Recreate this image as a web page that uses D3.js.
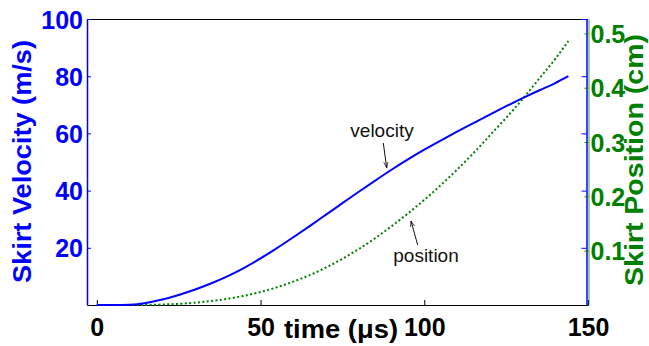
<!DOCTYPE html>
<html>
<head>
<meta charset="utf-8">
<script src="https://cdn.jsdelivr.net/npm/d3@7"></script>
<style>
  body { margin: 0; background: #fff; }
  svg { display: block; font-family: "Liberation Sans", Arial, sans-serif; }
</style>
</head>
<body>
<div id="chart"></div>
<script>
// time axis (microseconds)
const time = [0, 5, 10, 15, 20, 25, 30, 35, 40, 45, 50, 55, 60, 65, 70, 75, 80, 85, 90, 95, 100, 105, 110, 115, 120, 125, 130, 135, 140, 144]
// skirt velocity (m/s)
const velocity = [0, 0, 0.1, 0.7, 1.9, 3.5, 5.4, 7.6, 10.1, 13.0, 16.3, 19.9, 23.7, 27.6, 31.6, 35.6, 39.6, 43.5, 47.3, 50.9, 54.3, 57.5, 60.6, 63.6, 66.6, 69.5, 72.3, 75.0, 77.6, 80.0]
// skirt position (cm)
const position = [0, 0, 0, 0.0002, 0.0009, 0.0021, 0.0043, 0.0073, 0.0115, 0.017, 0.024, 0.0327, 0.043, 0.055, 0.069, 0.085, 0.103, 0.123, 0.145, 0.1685, 0.1935, 0.2205, 0.249, 0.2795, 0.312, 0.3445, 0.379, 0.416, 0.453, 0.486]

const xTicks = [0, 50, 100, 150]
const velTicks = [20, 40, 60, 80, 100]
const posTicks = [0.1, 0.2, 0.3, 0.4, 0.5]

const width = 649
const height = 346
const plotLeft = 87, plotRight = 588, plotTop = 19, plotBottom = 305

const blue = "#0000ff"
const green = "#008000"

const svg = d3.select("#chart")
  .append("svg")
    .attr("width", width)
    .attr("height", height)

let x = d3.scaleLinear().domain([-3, 150]).range([plotLeft, plotRight])
let yVel = d3.scaleLinear().domain([0, 100]).range([plotBottom, plotTop])
let yPos = d3.scaleLinear().domain([0, 0.5265]).range([plotBottom, plotTop])

// top border
svg.append("line")
  .attr("x1", plotLeft).attr("x2", plotRight)
  .attr("y1", plotTop + 0.5).attr("y2", plotTop + 0.5)
  .attr("stroke", "#000")

// bottom axis
let xAxis = svg.append("g")
  .attr("transform", "translate(0," + plotBottom + ")")
  .call(d3.axisBottom(x).tickValues(xTicks).tickSize(-5).tickSizeOuter(0))
xAxis.select(".domain").attr("stroke", "#000").attr("stroke-width", 1.2)
xAxis.selectAll("line").attr("stroke", "#000")
xAxis.selectAll("text")
  .attr("y", 31).attr("dy", 0)
  .attr("fill", "#000")
  .attr("font-size", "25px")
  .attr("font-weight", "bold")
  .attr("font-family", "'Liberation Sans', Arial, sans-serif")

// left axis (velocity)
let leftAxis = svg.append("g")
  .attr("transform", "translate(" + plotLeft + ",0)")
  .call(d3.axisLeft(yVel).tickValues(velTicks).tickSize(-4).tickSizeOuter(0).tickPadding(4))
leftAxis.select(".domain").attr("stroke", blue).attr("stroke-width", 1.5)
leftAxis.selectAll("line").attr("stroke", blue)
leftAxis.selectAll("text")
  .attr("fill", blue)
  .attr("dy", "0.36em")
  .attr("font-size", "25px")
  .attr("font-weight", "bold")
  .attr("font-family", "'Liberation Sans', Arial, sans-serif")

// mirrored velocity ticks on the right edge
let rightBlue = svg.append("g")
  .attr("transform", "translate(" + (plotRight - 1.5) + ",0)")
  .call(d3.axisRight(yVel).tickValues(velTicks).tickSize(-5).tickSizeOuter(0).tickFormat(""))
rightBlue.select(".domain").attr("stroke", blue).attr("stroke-width", 1.5)
rightBlue.selectAll("line").attr("stroke", blue)

// right axis (position)
let rightAxis = svg.append("g")
  .attr("transform", "translate(" + (plotRight + 0.5) + ",0)")
  .call(d3.axisRight(yPos).tickValues(posTicks).tickSize(-4).tickSizeOuter(0).tickPadding(2).tickFormat(d3.format(".1f")))
rightAxis.select(".domain").attr("stroke", green).attr("stroke-opacity", 0.5).attr("stroke-width", 1.5)
rightAxis.selectAll("line").attr("stroke", green)
rightAxis.selectAll("text")
  .attr("fill", green)
  .attr("dy", "0.36em")
  .attr("font-size", "25px")
  .attr("font-weight", "bold")
  .attr("font-family", "'Liberation Sans', Arial, sans-serif")

// curves
let velLine = d3.line()
  .x(function(d, i) { return x(time[i]); })
  .y(function(d) { return yVel(d); })
  .curve(d3.curveMonotoneX)

let posLine = d3.line()
  .x(function(d, i) { return x(time[i]); })
  .y(function(d) { return yPos(d); })
  .curve(d3.curveMonotoneX)

svg.append("path")
  .datum(position)
  .attr("d", posLine)
  .attr("fill", "none")
  .attr("stroke", green)
  .attr("stroke-width", 2)
  .attr("stroke-dasharray", "2,2.4")

svg.append("path")
  .datum(velocity)
  .attr("d", velLine)
  .attr("fill", "none")
  .attr("stroke", blue)
  .attr("stroke-width", 2)

// axis labels
svg.append("text")
  .attr("transform", "translate(31,161.5)rotate(-90)")
  .attr("text-anchor", "middle")
  .attr("fill", blue)
  .attr("font-size", "26px")
  .attr("font-weight", "bold")
  .attr("textLength", 243)
  .attr("lengthAdjust", "spacingAndGlyphs")
  .text("Skirt Velocity (m/s)")

svg.append("text")
  .attr("transform", "translate(643,160)rotate(-90)")
  .attr("text-anchor", "middle")
  .attr("fill", green)
  .attr("font-size", "25px")
  .attr("font-weight", "bold")
  .attr("textLength", 252)
  .attr("lengthAdjust", "spacingAndGlyphs")
  .text("Skirt Position (cm)")

svg.append("text")
  .attr("x", 341)
  .attr("y", 338)
  .attr("text-anchor", "middle")
  .attr("fill", "#000")
  .attr("font-size", "26px")
  .attr("font-weight", "bold")
  .attr("textLength", 114)
  .attr("lengthAdjust", "spacingAndGlyphs")
  .text("time (μs)")

// annotations
svg.append("defs").append("marker")
    .attr("id", "head")
    .attr("viewBox", "0 0 10 10")
    .attr("refX", 10).attr("refY", 5)
    .attr("markerWidth", 6).attr("markerHeight", 6)
    .attr("orient", "auto")
  .append("path")
    .attr("d", "M0,1.5L10,5L0,8.5")
    .attr("fill", "none")
    .attr("stroke", "#111")
    .attr("stroke-width", 1.2)

svg.append("text")
  .attr("x", 382).attr("y", 137)
  .attr("text-anchor", "middle")
  .attr("fill", "#111")
  .attr("font-size", "19px")
  .attr("font-family", "'Liberation Sans', Arial, sans-serif")
  .text("velocity")

svg.append("line")
  .attr("x1", 383.3).attr("y1", 143)
  .attr("x2", 386.7).attr("y2", 168)
  .attr("stroke", "#111")
  .attr("stroke-width", 1)
  .attr("marker-end", "url(#head)")

svg.append("text")
  .attr("x", 426).attr("y", 262)
  .attr("text-anchor", "middle")
  .attr("fill", "#111")
  .attr("font-size", "19px")
  .attr("font-family", "'Liberation Sans', Arial, sans-serif")
  .text("position")

svg.append("line")
  .attr("x1", 417.7).attr("y1", 245)
  .attr("x2", 411).attr("y2", 221)
  .attr("stroke", "#111")
  .attr("stroke-width", 1)
  .attr("marker-end", "url(#head)")
</script>
</body>
</html>
